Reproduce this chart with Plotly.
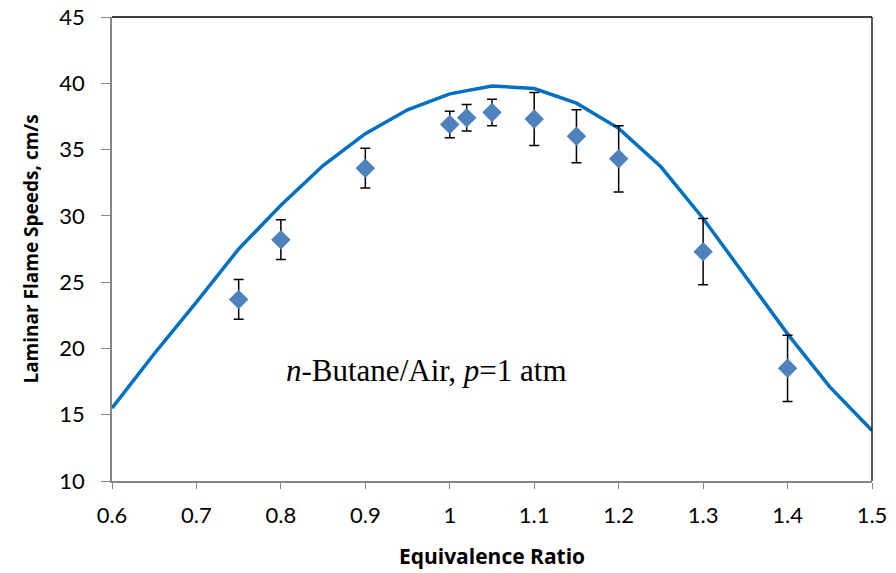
import plotly.graph_objects as go

# Experimental data
phi_exp = [0.75, 0.8, 0.9, 1.0, 1.02, 1.05, 1.1, 1.15, 1.2, 1.3, 1.4]
su_exp = [23.7, 28.2, 33.6, 36.9, 37.4, 37.8, 37.3, 36.0, 34.3, 27.3, 18.5]
err_exp = [1.5, 1.5, 1.5, 1.0, 1.0, 1.0, 2.0, 2.0, 2.5, 2.5, 2.5]

# Model curve
phi_model = [0.6, 0.65, 0.7, 0.75, 0.8, 0.85, 0.9, 0.95, 1.0, 1.05, 1.1, 1.15,
             1.2, 1.25, 1.3, 1.35, 1.4, 1.45, 1.5]
su_model = [15.5, 19.6, 23.5, 27.5, 30.8, 33.8, 36.2, 38.0, 39.2, 39.8, 39.6, 38.5,
            36.6, 33.7, 29.8, 25.4, 21.1, 17.1, 13.8]

x_ticks = [0.6, 0.7, 0.8, 0.9, 1.0, 1.1, 1.2, 1.3, 1.4, 1.5]
x_tick_text = ["0.6", "0.7", "0.8", "0.9", "1", "1.1", "1.2", "1.3", "1.4", "1.5"]
y_ticks = [10, 15, 20, 25, 30, 35, 40, 45]

fig = go.Figure()
fig.add_trace(go.Scatter(
    x=phi_model, y=su_model, mode="lines",
    line=dict(color="#0070C0", width=3.5), showlegend=False, hoverinfo="skip"))
fig.add_trace(go.Scatter(
    x=phi_exp, y=su_exp, mode="markers",
    marker=dict(symbol="diamond", size=15, color="#4F81BD"),
    error_y=dict(type="data", array=err_exp, visible=True, color="black",
                 thickness=1.5, width=5),
    showlegend=False))

fig.add_annotation(
    x=0.804, y=18.3, xref="x", yref="y",
    text="<i>n</i>-Butane/Air, <i>p</i>=1 atm", showarrow=False,
    font=dict(family="Liberation Serif", size=31, color="black"),
    xanchor="left", yanchor="middle")

# top and right border lines (black)
fig.add_shape(type="line", xref="paper", yref="paper", x0=0, x1=1, y0=1, y1=1,
              line=dict(color="black", width=1.3))
fig.add_shape(type="line", xref="paper", yref="paper", x0=1, x1=1, y0=0, y1=1,
              line=dict(color="black", width=1.3))

fig.update_layout(
    width=896, height=573,
    margin=dict(l=112, r=24, t=17, b=92),
    paper_bgcolor="white", plot_bgcolor="white",
    font=dict(family="Lato", color="black"),
    xaxis=dict(
        range=[0.6, 1.5], tickvals=x_ticks, ticktext=x_tick_text,
        automargin=False,
        showgrid=False, zeroline=False, showline=True, linecolor="#868686",
        linewidth=1.5, ticks="outside", tickcolor="#868686", ticklen=6,
        ticklabelstandoff=8,
        tickfont=dict(size=22, family="Lato"),
        title=dict(text="<b>Equivalence Ratio</b>", font=dict(size=21, family="Open Sans"),
                   standoff=22)),
    yaxis=dict(
        range=[10, 45], tickvals=y_ticks,
        automargin=False,
        showgrid=False, zeroline=False, showline=True, linecolor="#868686",
        linewidth=1.5, ticks="outside", tickcolor="#868686", ticklen=9,
        ticklabelstandoff=12,
        tickfont=dict(size=22, family="Lato"),
        title=dict(text="<b>Laminar Flame Speeds, cm/s</b>", font=dict(size=19, family="Open Sans"),
                   standoff=16)),
)

fig.write_html("out.html")
